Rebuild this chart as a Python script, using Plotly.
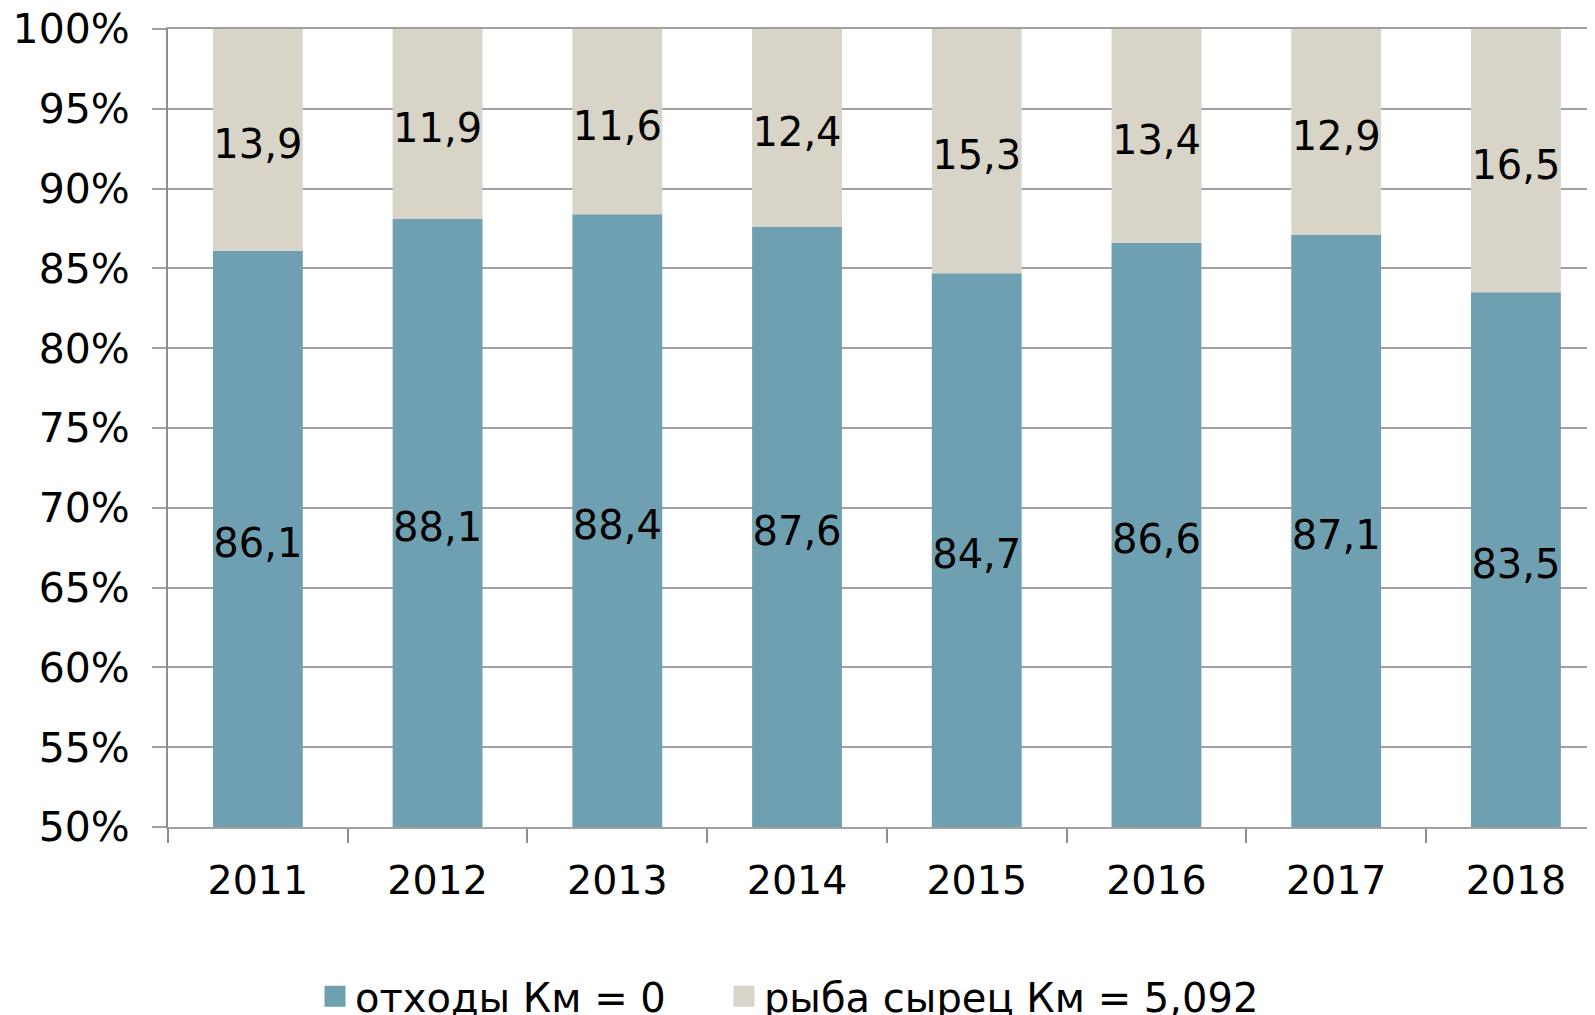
import plotly.graph_objects as go

years = ["2011", "2012", "2013", "2014", "2015", "2016", "2017", "2018"]
waste = [86.1, 88.1, 88.4, 87.6, 84.7, 86.6, 87.1, 83.5]
raw_fish = [13.9, 11.9, 11.6, 12.4, 15.3, 13.4, 12.9, 16.5]
series_names = ["отходы Км = 0", "рыба сырец Км = 5,092"]
colors = ["#6FA0B1", "#D8D4C8"]
Y_MIN, Y_MAX, Y_STEP = 50, 100, 5

FONT = "DejaVu Sans"
GRID = "#A0A0A0"
AXIS = "#8E8E8E"
LABEL_DROP = 0.5  # small downward nudge of value labels (axis units)

fig = go.Figure()
fig.add_trace(go.Bar(
    x=years, y=[v - Y_MIN for v in waste], base=Y_MIN, name=series_names[0],
    marker=dict(color=colors[0], line=dict(width=0)), width=0.5,
    showlegend=False, hoverinfo="skip",
))
fig.add_trace(go.Bar(
    x=years, y=raw_fish, base=waste, name=series_names[1],
    marker=dict(color=colors[1], line=dict(width=0)), width=0.5,
    showlegend=False, hoverinfo="skip",
))
fig.add_trace(go.Scatter(
    x=years, y=[(Y_MIN + w) / 2 - LABEL_DROP for w in waste], mode="text",
    text=[f"{v:.1f}".replace(".", ",") for v in waste],
    textfont=dict(family=FONT, size=40, color="black"),
    showlegend=False, hoverinfo="skip", cliponaxis=False,
))
fig.add_trace(go.Scatter(
    x=years, y=[w + f / 2 - LABEL_DROP for w, f in zip(waste, raw_fish)], mode="text",
    text=[f"{v:.1f}".replace(".", ",") for v in raw_fish],
    textfont=dict(family=FONT, size=40, color="black"),
    showlegend=False, hoverinfo="skip", cliponaxis=False,
))
for i, (name, col) in enumerate(zip(series_names, colors)):
    fig.add_trace(go.Scatter(
        x=[None], y=[None], mode="markers", name=name,
        marker=dict(symbol="square", size=16, color=col, line=dict(color=col, width=5)),
        showlegend=True, legend="legend" if i == 0 else "legend2",
    ))

legend_common = dict(
    orientation="h", y=-0.212, yanchor="middle", xanchor="left",
    font=dict(family=FONT, size=40, color="black"),
    itemwidth=30, bgcolor="rgba(0,0,0,0)",
)

fig.update_layout(
    width=1595, height=1015,
    barmode="overlay",
    paper_bgcolor="white", plot_bgcolor="white",
    margin=dict(l=160, r=8, t=21, b=196, autoexpand=False),
    font=dict(family=FONT, size=39, color="black"),
    legend=dict(x=0.103, **legend_common),
    legend2=dict(x=0.3896, **legend_common),
    xaxis=dict(
        type="category", range=[-0.5, 7.44],
        showline=True, linecolor=GRID, linewidth=2, mirror=True,
        ticks="outside", ticklen=14, tickwidth=2, tickcolor=AXIS,
        tickson="boundaries", showgrid=False,
        tickfont=dict(family=FONT, size=39.5, color="black"),
        ticklabelstandoff=18,
    ),
    yaxis=dict(
        range=[Y_MIN, Y_MAX], tickmode="linear", tick0=Y_MIN, dtick=Y_STEP,
        ticksuffix="%", showticksuffix="all", ticklabeloverflow="allow",
        showgrid=True, gridcolor=GRID, gridwidth=2,
        showline=True, linecolor=AXIS, linewidth=2,
        ticks="outside", ticklen=14, tickwidth=2, tickcolor=GRID,
        tickfont=dict(family=FONT, size=41, color="black"),
        zeroline=False, ticklabelstandoff=14,
    ),
)

fig.write_html("out.html")
